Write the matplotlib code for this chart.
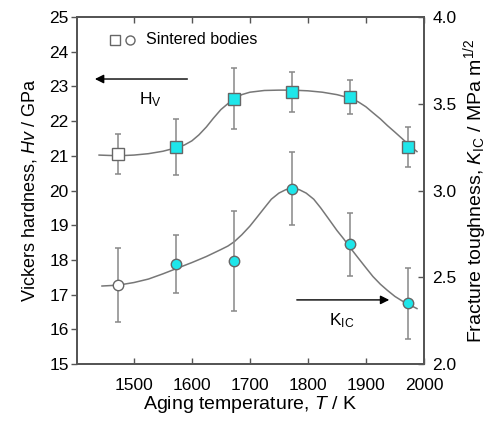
import matplotlib
matplotlib.use("Agg")
import matplotlib.pyplot as plt

plt.rcParams['font.family'] = ['Liberation Sans', 'DejaVu Sans']
plt.rcParams['mathtext.fontset'] = 'custom'
plt.rcParams['mathtext.rm'] = 'Liberation Sans'
plt.rcParams['mathtext.it'] = 'Liberation Sans:italic'

# Data
T = [1473, 1573, 1673, 1773, 1873, 1973]
hv = [21.05, 21.25, 22.64, 22.84, 22.69, 21.25]
hv_err = [0.58, 0.80, 0.88, 0.57, 0.50, 0.58]
kic = [2.455, 2.576, 2.594, 3.01, 2.69, 2.35]
kic_err = [0.215, 0.167, 0.29, 0.21, 0.18, 0.205]

hv_curve_T = [1440, 1473, 1500, 1525, 1550, 1573, 1587, 1600, 1612, 1625, 1637, 1650, 1662,
              1673, 1686, 1700, 1725, 1750, 1773, 1800, 1825, 1850, 1873, 1887, 1900, 1912,
              1925, 1937, 1950, 1962, 1973, 1988]
hv_curve = [21.02, 21.00, 21.02, 21.06, 21.13, 21.23, 21.31, 21.43, 21.60, 21.83, 22.08, 22.33,
            22.50, 22.64, 22.76, 22.83, 22.88, 22.89, 22.89, 22.87, 22.83, 22.76, 22.66, 22.55,
            22.41, 22.24, 22.06, 21.87, 21.68, 21.50, 21.33, 21.12]
k_curve_T = [1445, 1473, 1500, 1525, 1550, 1573, 1600, 1625, 1650, 1662, 1673, 1686, 1700, 1712,
             1725, 1737, 1750, 1762, 1773, 1785, 1797, 1810, 1822, 1835, 1850, 1862, 1873,
             1887, 1900, 1912, 1925, 1937, 1950, 1962, 1973, 1988]
k_curve = [2.45, 2.455, 2.47, 2.49, 2.52, 2.55, 2.585, 2.62, 2.66, 2.68, 2.705, 2.745, 2.795, 2.845,
           2.90, 2.95, 2.985, 3.005, 3.01, 3.005, 2.985, 2.95, 2.90, 2.84, 2.77, 2.72, 2.67,
           2.61, 2.555, 2.505, 2.46, 2.425, 2.39, 2.365, 2.345, 2.32]

x_ticks = [1500, 1600, 1700, 1800, 1900, 2000]
left_ticks = list(range(15, 26))
right_ticks = [2.0, 2.5, 3.0, 3.5, 4.0]

cyan = '#1ee6ea'
edge = '#666666'
line_c = '#777777'
spine_c = '#555555'
fs = 12.5

fig = plt.figure(figsize=(4.97, 4.21), dpi=100)
ax = fig.add_axes([0.155, 0.135, 0.698, 0.825])
ax2 = ax.twinx()

# Hv
ax.plot(hv_curve_T, hv_curve, color=line_c, lw=1.1, zorder=2)
ax.errorbar(T, hv, yerr=hv_err, fmt='none', ecolor='#888888', elinewidth=1.1,
            capsize=2.5, capthick=1.1, zorder=3)
fills = ['white'] + [cyan] * 5
for t, v, f in zip(T, hv, fills):
    ax.plot([t], [v], marker='s', ms=8, mfc=f, mec=edge, mew=1, ls='none', zorder=4)

# KIC
ax2.plot(k_curve_T, k_curve, color=line_c, lw=1.1, zorder=2)
ax2.errorbar(T, kic, yerr=kic_err, fmt='none', ecolor='#888888', elinewidth=1.1,
             capsize=2.5, capthick=1.1, zorder=3)
for t, v, f in zip(T, kic, fills):
    ax2.plot([t], [v], marker='o', ms=7.5, mfc=f, mec=edge, mew=1, ls='none', zorder=4)

ax.set_xlim(1402, 2000)
ax.set_ylim(15, 25)
ax2.set_ylim(2.0, 4.0)
ax.set_xticks(x_ticks)
ax.set_yticks(left_ticks)
ax2.set_yticks(right_ticks)
ax2.set_yticklabels([f'{v:.1f}' for v in right_ticks])

ax.tick_params(axis='x', direction='in', top=True, length=4, width=1, color=spine_c,
               labelsize=fs, pad=10)
ax.tick_params(axis='y', direction='out', length=4, width=1, color=spine_c, labelsize=fs, pad=2)
ax2.tick_params(axis='y', direction='in', length=4, width=1, color=spine_c, labelsize=fs, pad=6)
for a in (ax, ax2):
    for s in a.spines.values():
        s.set_color(spine_c)
        s.set_linewidth(1.3)

ax.set_xlabel('Aging temperature, $T$ / K', fontsize=14, labelpad=1)
ax.set_ylabel('Vickers hardness, $Hv$ / GPa', fontsize=13, labelpad=7)
ax2.set_ylabel('Fracture toughness, $K_{\\mathrm{IC}}$ / MPa m$^{1/2}$', fontsize=14,
               rotation=90, labelpad=3)

# Legend glyphs
ax.plot([0.108], [0.934], marker='s', ms=6.5, mfc='white', mec=edge, mew=1,
        transform=ax.transAxes, clip_on=False)
ax.plot([0.153], [0.934], marker='o', ms=6.5, mfc='white', mec=edge, mew=1,
        transform=ax.transAxes, clip_on=False)
ax.text(0.2, 0.934, 'Sintered bodies', transform=ax.transAxes, fontsize=11.5,
        va='center', ha='left')

# Arrows and labels
ax.annotate('', xy=(1428, 23.21), xytext=(1597, 23.21),
            arrowprops=dict(arrowstyle='-|>', color='black', lw=1, mutation_scale=13))
ax.text(1528, 22.62, '$\\mathrm{H_V}$', fontsize=fs, ha='center', va='center')
ax2.annotate('', xy=(1945, 2.37), xytext=(1776, 2.37),
             arrowprops=dict(arrowstyle='-|>', color='black', lw=1, mutation_scale=13))
ax2.text(1858, 2.25, '$\\mathrm{K_{IC}}$', fontsize=fs, ha='center', va='center')

fig.savefig('out.png', dpi=100)
